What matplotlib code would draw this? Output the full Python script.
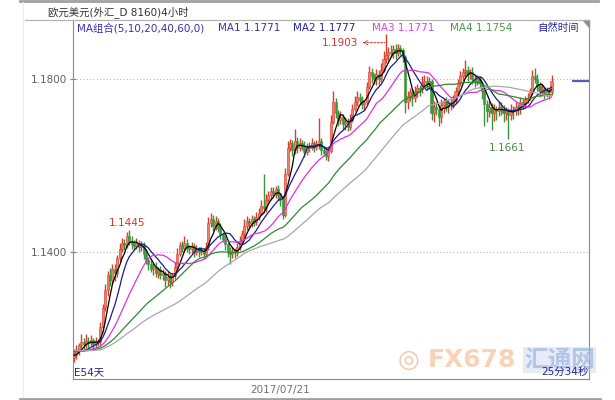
import matplotlib
matplotlib.use('Agg')
import matplotlib.pyplot as plt
import numpy as np
import pandas as pd

plt.rcParams['font.family'] = ['DejaVu Sans', 'Noto Sans CJK SC']

# 4-hour EUR/USD closes in pips (1.1160 -> 11160); history only feeds the MAs
history = [11185, 11192, 11178, 11170, 11182, 11195, 11188, 11175, 11168, 11180,
           11172, 11160, 11155, 11168, 11175, 11162, 11150, 11158, 11170, 11165,
           11178, 11185, 11190, 11180, 11172, 11165, 11158, 11150, 11145, 11152,
           11160, 11168, 11175, 11182, 11178, 11170, 11162, 11155, 11160, 11172,
           11180, 11188, 11195, 11190, 11182, 11175, 11168, 11160, 11155, 11162,
           11170, 11178, 11185, 11180, 11172, 11165, 11158, 11162, 11155]

close = [11160, 11172, 11183, 11190, 11186, 11194, 11188, 11195, 11185, 11192,
         11190, 11225, 11270, 11310, 11345, 11335, 11360, 11350, 11385, 11405,
         11420, 11415, 11435, 11425, 11418, 11412, 11420, 11410, 11415, 11395,
         11380, 11370, 11360, 11365, 11350, 11358, 11345, 11350, 11335, 11342,
         11330, 11345, 11365, 11395, 11415, 11408, 11420, 11410, 11405, 11412,
         11400, 11405, 11398, 11402, 11395, 11410, 11465, 11475, 11460, 11470,
         11455, 11440, 11430, 11418, 11400, 11395, 11402, 11398, 11410, 11425,
         11440, 11460, 11470, 11465, 11475, 11468, 11480, 11490, 11505, 11500,
         11520, 11530, 11540, 11535, 11545, 11530, 11520, 11485, 11580, 11640,
         11650, 11635, 11655, 11640, 11650, 11645, 11630, 11645, 11640, 11650,
         11642, 11648, 11655, 11635, 11628, 11620, 11632, 11700, 11745, 11720,
         11705, 11712, 11695, 11700, 11688, 11705, 11730, 11745, 11758, 11750,
         11740, 11745, 11780, 11815, 11805, 11798, 11810, 11800, 11820, 11845,
         11855, 11862, 11858, 11868, 11860, 11870, 11865, 11850, 11745, 11760,
         11768, 11755, 11770, 11778, 11775, 11790, 11795, 11788, 11795, 11720,
         11735, 11730, 11710, 11738, 11745, 11735, 11745, 11740, 11750, 11770,
         11790, 11805, 11815, 11820, 11810, 11815, 11800, 11795, 11800, 11790,
         11770, 11740, 11725, 11735, 11720, 11730, 11725, 11735, 11730, 11720,
         11725, 11715, 11728, 11725, 11735, 11730, 11745, 11740, 11750, 11755,
         11770, 11805, 11800, 11785, 11770, 11775, 11765, 11770, 11768, 11795]

# wick lengths beyond the body, in pips
up_wick = [8, 12, 6, 20, 10, 15, 8, 12, 6, 10,
           5, 12, 8, 15, 10, 18, 12, 10, 8, 15,
           12, 8, 10, 14, 10, 8, 12, 6, 10, 8,
           10, 6, 12, 8, 10, 6, 8, 10, 6, 12,
           8, 5, 10, 12, 8, 10, 15, 8, 6, 10,
           8, 10, 6, 8, 6, 12, 15, 13, 10, 12,
           8, 10, 6, 8, 5, 10, 8, 6, 10, 12,
           10, 15, 12, 8, 10, 6, 12, 10, 15, 75,
           12, 10, 8, 10, 6, 8, 5, 4, 12, 15,
           10, 8, 29, 10, 12, 8, 10, 6, 8, 12,
           6, 10, 53, 8, 10, 6, 8, 15, 27, 10,
           8, 12, 6, 10, 8, 12, 10, 15, 12, 8,
           10, 6, 12, 15, 10, 8, 12, 10, 15, 18,
           48, 12, 15, 10, 12, 10, 8, 6, 5, 12,
           10, 8, 12, 10, 8, 15, 12, 10, 8, 5,
           12, 10, 8, 15, 10, 12, 8, 10, 12, 10,
           8, 12, 10, 22, 10, 8, 12, 10, 8, 6,
           5, 8, 10, 12, 8, 10, 6, 12, 10, 8,
           10, 6, 12, 8, 10, 6, 12, 8, 10, 12,
           8, 15, 20, 10, 6, 12, 8, 10, 6, 12]

down_wick = [10, 8, 12, 6, 15, 8, 10, 6, 12, 8,
             8, 6, 10, 8, 12, 15, 10, 18, 8, 10,
             6, 12, 8, 10, 12, 8, 6, 10, 8, 12,
             10, 12, 8, 15, 10, 12, 8, 10, 17, 12,
             15, 10, 8, 6, 5, 10, 8, 12, 10, 8,
             12, 8, 10, 6, 12, 5, 6, 8, 12, 10,
             10, 12, 8, 15, 12, 25, 10, 12, 8, 6,
             5, 8, 10, 12, 8, 10, 6, 8, 5, 10,
             8, 6, 10, 8, 12, 10, 15, 10, 6, 5,
             8, 15, 10, 12, 8, 10, 12, 8, 10, 6,
             12, 8, 10, 12, 8, 8, 10, 5, 6, 12,
             15, 10, 12, 15, 10, 8, 6, 5, 8, 12,
             10, 12, 6, 5, 15, 10, 12, 15, 8, 6,
             10, 12, 8, 10, 15, 8, 10, 12, 25, 15,
             12, 18, 10, 12, 15, 8, 10, 12, 10, 15,
             20, 15, 20, 12, 18, 10, 15, 12, 8, 6,
             5, 8, 10, 12, 15, 10, 12, 15, 10, 12,
             18, 50, 25, 15, 40, 18, 20, 12, 15, 20,
             15, 54, 12, 18, 10, 15, 12, 10, 8, 6,
             5, 6, 10, 15, 12, 10, 12, 8, 15, 6]

ma_periods = [5, 10, 20, 40, 60]
ma_colors = ['#000000', '#1c1c8a', '#e030e0', '#2f8a2f', '#a8a8a8']
yticks = [1.14, 1.18]
date_label = '2017/07/21'
date_pos = 86

# ---- build OHLC
s = pd.Series(history + close) / 10000.0
n0 = len(history)
c = s.iloc[n0:].values
o = s.shift(1).iloc[n0:].values
hi = np.maximum(o, c) + np.array(up_wick) / 10000.0
lo = np.minimum(o, c) - np.array(down_wick) / 10000.0
idx = np.arange(len(c))
up = c >= o

W, H = 615, 400
fig = plt.figure(figsize=(W / 100, H / 100), dpi=100)
fx = lambda x: x / W
fy = lambda y: 1 - y / H

ax = fig.add_axes([fx(73), fy(379), (589 - 73) / W, (379 - 20) / H])
ax.set_xlim(-0.42, 214.6)
ax.set_ylim(1.11052, 1.19353)

red, green = '#e23a2a', '#3a963a'
ax.vlines(idx, lo, hi, colors=np.where(up, red, green), lw=1.0, zorder=2)
ax.bar(idx[up], (c - o)[up], bottom=o[up], width=0.9, color='#e8826a',
       edgecolor=red, lw=0.4, zorder=2)
ax.bar(idx[~up], (c - o)[~up], bottom=o[~up], width=0.9, color=green,
       edgecolor=green, lw=0.4, zorder=2)

for p, col in zip(ma_periods, ma_colors):
    ma = s.rolling(p, min_periods=1).mean().iloc[n0:].values
    ax.plot(idx, ma, color=col, lw=0.9, zorder=3)

# grid + axis styling
for yv in yticks:
    ax.axhline(yv, color='#b8b8c8', lw=0.8, ls=(0, (1, 2)), zorder=1)
ax.set_yticks(yticks)
ax.set_yticklabels(['%.4f' % v for v in yticks], fontsize=7.5, color='#606060')
ax.tick_params(axis='y', direction='inout', length=5, color='#808080', pad=2)
ax.set_xticks([date_pos])
ax.set_xticklabels([date_label], fontsize=7.5, color='#707070')
ax.tick_params(axis='x', length=0, pad=4)
for side in ['left', 'right', 'bottom']:
    ax.spines[side].set_color('#8a8a8a')
    ax.spines[side].set_linewidth(0.8)
ax.spines['top'].set_visible(False)

# current price marker outside the candles
ax.hlines(c[-1], 207.5, 214.6, color='#5a5ac0', lw=1.6, zorder=3)

# extreme labels
pk = int(np.argmax(hi))
ax.annotate('1.1903', xy=(pk - 0.5, hi[pk] - 0.0020), xytext=(pk - 11.5, hi[pk] - 0.0020),
            fontsize=7.5, color='#e03030', ha='right', va='center',
            arrowprops=dict(arrowstyle='<-', color='#e03030', lw=0.7, ls=(0, (2, 1.5)),
                            shrinkA=1, shrinkB=0))
ax.annotate('1.1445', xy=(22, hi[22]), xytext=(0, 3), textcoords='offset points',
            fontsize=7.5, color='#e03030', ha='center', va='bottom')
lw_i = 160 + int(np.argmin(lo[160:]))
ax.annotate('1.1661', xy=(lw_i, lo[lw_i]), xytext=(-1, -3), textcoords='offset points',
            fontsize=7.5, color='#4a8a4a', ha='center', va='top')

# frame lines
fig.add_artist(plt.Line2D([fx(20), fx(598)], [fy(1), fy(1)], color='#a0a0a0', lw=2))
fig.add_artist(plt.Line2D([fx(25), fx(589)], [fy(20), fy(20)], color='#b0b0b0', lw=0.8))
fig.add_artist(plt.Line2D([fx(20), fx(600)], [fy(398.5), fy(398.5)], color='#a0a0a0', lw=2))
fig.add_artist(plt.Line2D([fx(23), fx(23)], [fy(2), fy(397)], color='#ececec', lw=0.8))

# header texts
fig.text(fx(48), fy(12), '欧元美元(外汇_D 8160)4小时', fontsize=7.5, color='#333333', va='center')
legend_items = [(77, 'MA组合(5,10,20,40,60,0)', '#3434b4'),
                (218, 'MA1 1.1771', '#3434a8'),
                (293, 'MA2 1.1777', '#24249a'),
                (372, 'MA3 1.1771', '#e040e0'),
                (450, 'MA4 1.1754', '#4a9a4a'),
                (537, '自然时间', '#24249a')]
for x, t, col in legend_items:
    fig.text(fx(x), fy(28), t, fontsize=7.5, color=col, va='center')
fig.add_artist(plt.Polygon([[fx(583), fy(20)], [fx(589), fy(20)], [fx(589), fy(27)]],
                           closed=True, color='#909090'))

# watermark
fig.text(fx(409), fy(360), '◎', fontsize=18, color='#f0b890', ha='center', va='center', alpha=0.8)
fig.text(fx(428), fy(360), 'FX678', fontsize=18, color='#f6b48a', va='center',
         alpha=0.6, fontweight='bold', family='DejaVu Sans')
fig.text(fx(524), fy(360), '汇通网', fontsize=17, color='#7f9fd8', va='center', alpha=0.5,
         family='Noto Sans CJK SC', fontweight='bold',
         bbox=dict(boxstyle='square,pad=0.05', fc='#c8d4ee', ec='none', alpha=0.45))

# bottom corner texts
fig.text(fx(74), fy(372), 'E54天', fontsize=7.5, color='#24248a', va='center')
fig.text(fx(588), fy(372), '25分34秒', fontsize=7.5, color='#24248a', va='center', ha='right')

fig.savefig('out.png', dpi=100)
